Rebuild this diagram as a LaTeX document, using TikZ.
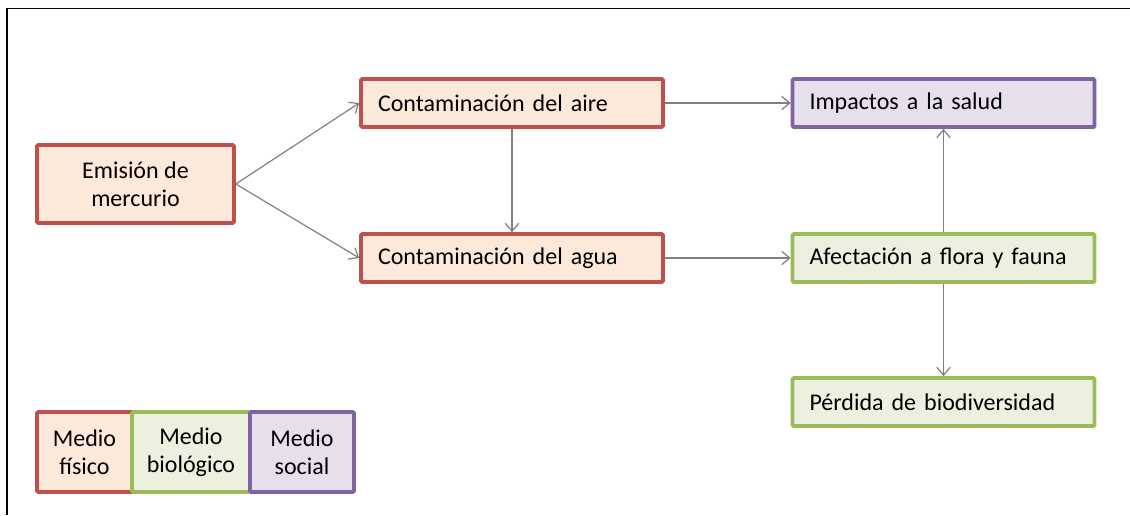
\documentclass[tikz,border=0pt]{standalone}
\usepackage{fontspec}
\setmainfont{Carlito}
\usetikzlibrary{arrows.meta}
\definecolor{rojoborde}{RGB}{192,80,77}
\definecolor{rojofondo}{RGB}{253,233,217}
\definecolor{verdeborde}{RGB}{155,187,89}
\definecolor{verdefondo}{RGB}{235,241,222}
\definecolor{moradoborde}{RGB}{128,100,162}
\definecolor{moradofondo}{RGB}{229,224,236}
\definecolor{flechagris}{RGB}{128,128,128}
\tikzset{
        % base look of every box
        caja/.style={rectangle, rounded corners=0.8pt, line width=2.7pt, font=\fontsize{18}{21}\selectfont, inner sep=0pt},
        fisico/.style={caja, draw=rojoborde, fill=rojofondo},
        biologico/.style={caja, draw=verdeborde, fill=verdefondo},
        social/.style={caja, draw=moradoborde, fill=moradofondo},
        % long boxes with the text set to the left
        larga/.style={minimum height=36pt, text width=201pt, inner xsep=12.75pt, align=left},
        flecha/.style={draw=flechagris, line width=0.9pt, -{Straight Barb[length=6pt,width=10pt]}}
    }
\begin{document}
\begin{tikzpicture}[x=0.75pt,y=0.75pt,yscale=-1]
\useasboundingbox (0,0) rectangle (1130,515);

%Frame
\draw [line width=1.1pt] (7,515) -- (7,8.5) -- (1130,8.5) ;

%Boxes
\node [fisico, minimum width=147.75pt, minimum height=58.5pt, align=center] (emision) at (135.5,184) {Emisión de\\mercurio};
\node [fisico, larga] (aire) at (512,103) {Contaminación del aire};
\node [fisico, larga] (agua) at (512,258) {Contaminación del agua};
\node [social, larga] (salud) at (943.5,103) {Impactos a la salud};
\node [biologico, larga] (flora) at (943.5,258) {Afectación a flora y fauna};
\node [biologico, larga] (perdida) at (943.5,402) {Pérdida de biodiversidad};

%Legend
\node [fisico, minimum width=71.25pt, minimum height=60pt, align=center] (leyfisico) at (84.5,452) {Medio\\físico};
\node [biologico, minimum width=88.5pt, minimum height=60pt, align=center] (leybiologico) at (191,452) {Medio\\biológico};
\node [social, minimum width=78pt, minimum height=60pt, align=center] (leysocial) at (302,452) {Medio\\social};

%Arrows
\draw [flecha] (emision.east) -- (aire.west) ;
\draw [flecha] (emision.east) -- (agua.west) ;
\draw [flecha] (aire.south) -- (agua.north) ;
\draw [flecha] (aire.east) -- (salud.west) ;
\draw [flecha] (agua.east) -- (flora.west) ;
\draw [flecha] (flora.north) -- (salud.south) ;
\draw [flecha] (flora.south) -- (perdida.north) ;

\end{tikzpicture}
\end{document}
